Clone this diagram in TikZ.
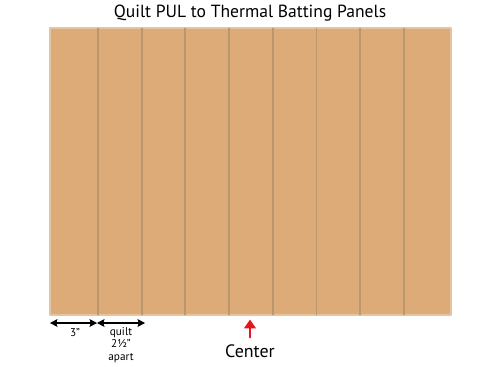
\documentclass[tikz,border=0pt]{standalone}
\usepackage{fontspec}
\setmainfont{PT Sans}
\usetikzlibrary{arrows.meta}
\definecolor{batting}{HTML}{DDAB78}
\definecolor{seam}{HTML}{B9976F}
\definecolor{centerred}{HTML}{E8141B}
\tikzset{
  panel/.style={fill=batting, draw=batting!70!white, line width=0.6pt},
  seamline/.style={draw=seam, line width=1.1pt},
  dimline/.style={<->, >={Stealth[length=4.2pt,width=4.4pt,inset=0.6pt]}, line width=0.75pt},
  smalltext/.style={font=\fontsize{6.4}{7.1}\selectfont, align=center, inner sep=0pt}
}
\begin{document}
\begin{tikzpicture}[x=0.02cm,y=-0.02cm, line cap=round, line join=round]
				\useasboundingbox (0,0) rectangle (500,366);
				\def\gap{43.7}
				% batting panel with the quilting lines
				\path[panel] (50,28) rectangle (451,315);
				\foreach \i in {0,...,7}
					\draw[seamline] ({98+\i*\gap},28.5) -- ({98+\i*\gap},314.5);
				\node (title) at (250,13) {\fontsize{10}{11}\selectfont Quilt PUL to Thermal Batting Panels};
				% spacing marks
				\coordinate (edge) at (50,323);
				\coordinate (first) at (97,323);
				\coordinate (second) at (145,323);
				\draw[dimline] (edge) -- (first);
				\draw[dimline] (first) -- (second);
				\node[smalltext] (three) at (75,333) {3"};
				\node[smalltext, anchor=north] (apart) at (121,327) {quilt\\2½"\\apart};
				% center mark
				\node (center) at (250,351) {\fontsize{10.2}{11}\selectfont Center};
				\coordinate (mid) at (250,319.5);
				\draw[->, >={Stealth[length=5pt,width=6.5pt,inset=0pt]}, centerred, line width=1.3pt] (center.north) ++(0,-1) -- (mid);
		\end{tikzpicture}
\end{document}
